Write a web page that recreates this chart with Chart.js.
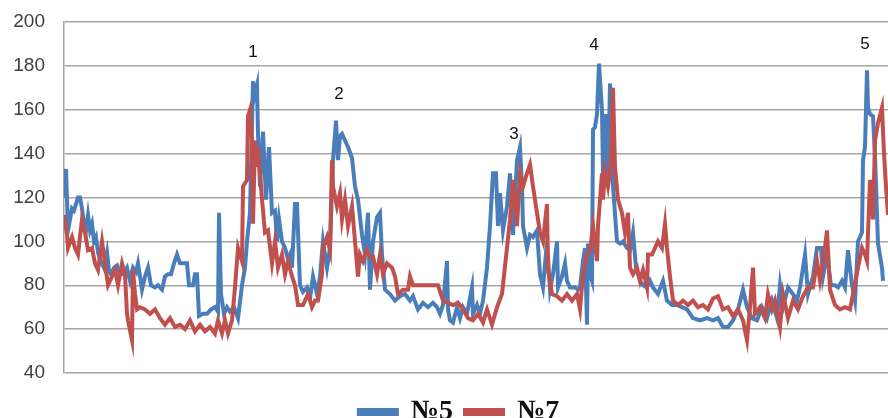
<!DOCTYPE html>
<html>
  <head>
    <script src="https://cdn.jsdelivr.net/npm/chart.js@4/dist/chart.umd.min.js"></script>
    <style>
      html, body { margin: 0; padding: 0; background: #fff; }
      #wrap { width: 888px; height: 418px; }
    </style>
  </head>

  <body>
    <div id="wrap">
      <canvas id="graph"></canvas>
    </div>
    <script>
      // series №5 : [observation, value]
      const n5 = [
        [0,120],[1,133],[2,105],[3,110],[4,115],[5,114],[6,117],[7,120],[8,120],[9,115],
        [10,108],[11,105],[12,112],[13,105],[14,108],[15,100],[16,102],[17,95],[18,92],[19,90],
        [20,88],[21.5,95],[22.5,87],[23.5,85],[25,88],[26.5,89],[28,85],[29.5,85],[31.5,88],[33,82],
        [34.5,88],[36,86],[37,90],[39,78],[40.5,84],[42,88],[43.5,80],[45.5,79],[47,80],[49,78],
        [50.5,84],[52,85],[53.5,85],[55,90],[56.5,94],[58,90],[60,90],[61.5,90],[62.5,80],[64.5,80],
        [65.5,85],[66.5,85],[67.5,66],[69.5,67],[71.5,67],[73.5,69],[75.5,70],[77,68],[77.5,113],[78.5,76],
        [80,67],[81.5,70],[83,68],[85,70],[87,65],[89,80],[90.5,88],[91.5,100],[93,113],[94.5,173],
        [95.5,167],[96.5,171],[97,149],[98,125],[99.5,150],[101,119],[102.5,143],[104,113],[105.5,114],[106.5,100],
        [107.5,110],[109,100],[110.5,97],[112,92],[113,94],[114,88],[115.5,117],[116.5,117],[118,80],[119.5,77],
        [121.5,79],[123,74],[124.5,84],[126.5,76],[128,84],[129.5,100],[131.5,88],[133,97],[134.5,137],[136,155],
        [137,137],[138,148],[139,149],[140.5,146],[142,143],[144,138],[145.5,125],[147,119],[149,103],[150.5,94],
        [152,113],[153,78],[154.5,100],[156.5,111],[158,113],[159,94],[160.5,78],[163,76],[165.5,73],[168,75],
        [170.5,76],[173,73],[174.5,75],[177,69],[179.5,72],[182,70],[184.5,72],[186.5,70],[188,67],[189.5,71],
        [191.5,91],[192,69],[193,64],[194.5,63],[196.5,70],[198,65],[199.5,70],[201.5,67],[204,79],[204.5,67],
        [206.5,71],[208,67],[209.5,73],[211.5,88],[213,107],[214.5,131],[216,131],[217,107],[218,122],[219.5,105],
        [221.5,116],[223,131],[224.5,103],[226.5,137],[228,143],[229,125],[229.5,107],[231.5,97],[233,103],[234.5,102],
        [236.5,105],[238,85],[239.5,79],[241.5,100],[243,78],[244.5,85],[246.5,100],[247,79],[249,84],[250.5,90],
        [251.5,82],[253,79],[255.5,79],[257,78],[258,79],[259.5,91],[260.5,97],[261.5,62],[262,99],[263,85],
        [264,82],[264.5,151],[265.5,152],[266.5,158],[267.5,181],[269,160],[269.5,131],[271,158],[272,125],[273,172],
        [274,160],[274.5,125],[276.5,100],[278,99],[279.5,100],[281.5,97],[283,96],[284.5,104],[286,88],[288,82],
        [289.5,80],[291.5,79],[293,82],[294.5,79],[297,76],[299.5,82],[301.5,73],[304,71],[306.5,71],[309,70],
        [311.5,69],[314.5,65],[318,64],[321.5,65],[324.5,64],[327,65],[329.5,61],[332,61],[334.5,64],[337,69],
        [339.5,78],[341.5,70],[344,65],[346.5,64],[349,70],[351.5,65],[354,73],[356.5,65],[358,80],[359.5,70],
        [362,79],[364.5,76],[366.5,73],[368,79],[370.5,94],[372,76],[374.5,84],[376.5,97],[378.5,97],[379.5,84],
        [381.5,94],[383.5,80],[385.5,80],[387,79],[389,82],[390.5,79],[392,96],[394,80],[395.5,73],[397,100],
        [399,104],[399.5,137],[400.5,143],[401.5,178],[402,161],[403,158],[404.5,157],[405.5,139],[407,99],[409,88],
        [409.5,82]
      ];

      // series №7 : [observation, value]
      const n7 = [
        [0,112],[1.5,103],[2,97],[4,102],[5.5,97],[7,94],[9,110],[10.5,104],[12,96],[14,97],
        [15.5,90],[17,87],[19,100],[20.5,90],[22,80],[24,84],[25.5,87],[27,80],[29,90],[30.5,85],
        [31.5,67],[32,64],[34,55],[34.5,87],[35.5,76],[36.5,69],[38,70],[40.5,69],[43,67],[45.5,69],
        [48,65],[50.5,62],[53,65],[55.5,61],[58,62],[60.5,60],[63,64],[65.5,59],[68,62],[70.5,59],
        [73,61],[75.5,58],[77,64],[79,58],[80.5,64],[82,58],[84,64],[85.5,79],[87,97],[89,91],
        [89.5,125],[91.5,128],[92,157],[93,160],[94,146],[94.5,108],[95.5,146],[96.5,134],[97,143],[99,119],
        [100.5,104],[102,105],[104,90],[105.5,100],[107,88],[109,94],[110.5,85],[112,91],[114,84],[115.5,80],
        [117,71],[119.5,71],[122,76],[124,70],[125.5,73],[127,73],[129,85],[129.5,97],[131.5,102],[133,96],
        [134,137],[134.5,125],[136.5,116],[138,122],[139,110],[140.5,119],[142,107],[144,116],[145.5,100],[147,84],
        [148,94],[149.5,91],[151.5,96],[153,93],[154.5,93],[156.5,85],[158,94],[159.5,85],[161.5,90],[164,88],
        [165.5,84],[167,76],[169.5,78],[172,78],[173,84],[174.5,80],[187,80],[189.5,73],[192,72],[194.5,71],
        [197,72],[199.5,69],[202,65],[204.5,64],[207,67],[209.5,63],[211.5,69],[214,62],[216.5,70],[219,76],
        [221.5,97],[223,110],[224.5,128],[226.5,107],[228,131],[229.5,125],[231.5,131],[233,135],[234.5,125],[236.5,113],
        [238,104],[239.5,100],[241.5,117],[242,87],[244,76],[246.5,75],[249,73],[251.5,76],[254,73],[256.5,76],
        [258,69],[259.5,85],[261.5,94],[263,96],[264.5,107],[266.5,91],[267,107],[269,131],[269.5,119],[270.5,132],
        [272,125],[273.5,135],[274.5,170],[275.5,134],[277,119],[279,113],[280.5,104],[282,113],[283,88],[284.5,85],
        [286.5,88],[288,82],[289.5,87],[291.5,79],[292,94],[294,94],[295.5,97],[297,100],[299,97],[300.5,108],
        [301.5,97],[303,84],[304.5,73],[307,71],[309.5,73],[312,71],[314.5,73],[317,70],[319.5,71],[322,69],
        [324.5,74],[327,75],[329.5,69],[332,70],[334.5,66],[337,69],[339.5,64],[341.5,55],[343,70],[344.5,88],
        [345.5,67],[348,70],[350.5,65],[352,76],[354,69],[355.5,73],[358,61],[359.5,76],[362,65],[364.5,73],
        [367,69],[369.5,75],[372,79],[374.5,79],[376.5,91],[378,82],[379.5,90],[381.5,105],[383,78],[385.5,71],
        [388,69],[390.5,70],[393,69],[394.5,76],[397,88],[399,97],[400.5,94],[401.5,91],[403,128],[404.5,110],
        [405.5,146],[407,154],[409,161],[410,140],[411,125],[412,112]
      ];

      const seriesNames = ['\u21165', '\u21167'];
      const seriesColors = ['#4a7ebb', '#c0504d'];

      const yTicks = [40, 60, 80, 100, 120, 140, 160, 180, 200];

      // peak markers
      const peakNames = ['1', '2', '3', '4', '5'];
      const peakAt = [94.5, 137.5, 225, 265, 400.5];
      const peakLevel = [186, 167, 149, 189.5, 190];

      const peakLabels = {
        id: 'peakLabels',
        afterDatasetsDraw(chart) {
          const { ctx, scales } = chart;
          ctx.save();
          ctx.font = '17px "Liberation Sans", Arial, sans-serif';
          ctx.fillStyle = '#111';
          ctx.textAlign = 'center';
          ctx.textBaseline = 'middle';
          peakNames.forEach((name, i) => {
            ctx.fillText(name, scales.x.getPixelForValue(peakAt[i]), scales.y.getPixelForValue(peakLevel[i]));
          });
          ctx.restore();
        },
      };

      // the legend in the original sits a bit right of the page centre
      const legendNudge = {
        id: 'legendNudge',
        afterLayout(chart) {
          if (chart.legend) chart.legend.left += 30;
        },
      };

      const toPts = (arr) => arr.map((p) => ({ x: p[0], y: p[1] }));

      new Chart(document.getElementById('graph').getContext('2d'), {
        type: 'line',
        data: {
          datasets: [
            {
              label: seriesNames[0],
              data: toPts(n5),
              borderColor: seriesColors[0],
              backgroundColor: seriesColors[0],
              borderWidth: 4,
              pointRadius: 0,
              tension: 0,
              order: 1,
            },
            {
              label: seriesNames[1],
              data: toPts(n7),
              borderColor: seriesColors[1],
              backgroundColor: seriesColors[1],
              borderWidth: 4,
              pointRadius: 0,
              tension: 0,
              order: 0,
            },
          ],
        },
        plugins: [peakLabels, legendNudge],
        options: {
          responsive: true,
          maintainAspectRatio: false,
          animation: false,
          layout: {
            padding: { top: 22, right: 0, bottom: -18, left: 0 },
          },
          scales: {
            x: {
              type: 'linear',
              min: 0,
              max: 412,
              ticks: { display: false },
              grid: { display: false },
              border: { display: false },
              afterFit: (axis) => {
                axis.height = 13;
              },
            },
            y: {
              min: 40,
              max: 200,
              afterBuildTicks: (axis) => {
                axis.ticks = yTicks.map((v) => ({ value: v }));
              },
              afterFit: (axis) => {
                axis.width = 64;
              },
              border: { display: true, color: '#a6a6a6', width: 1.5 },
              grid: { color: '#a6a6a6', lineWidth: 1.5, drawTicks: true, tickLength: 11, tickColor: 'rgba(0,0,0,0)' },
              ticks: {
                padding: 8,
                color: '#404040',
                font: { family: '"Liberation Sans", Arial, sans-serif', size: 19 },
              },
            },
          },
          plugins: {
            tooltip: { enabled: false },
            legend: {
              position: 'bottom',
              labels: {
                boxWidth: 38,
                boxHeight: 4,
                padding: 12,
                color: '#111',
                sort: (a, b) => a.datasetIndex - b.datasetIndex,
                font: { family: '"Liberation Serif", "Times New Roman", serif', size: 28, weight: 'bold' },
              },
            },
          },
        },
      });
    </script>
  </body>
</html>
